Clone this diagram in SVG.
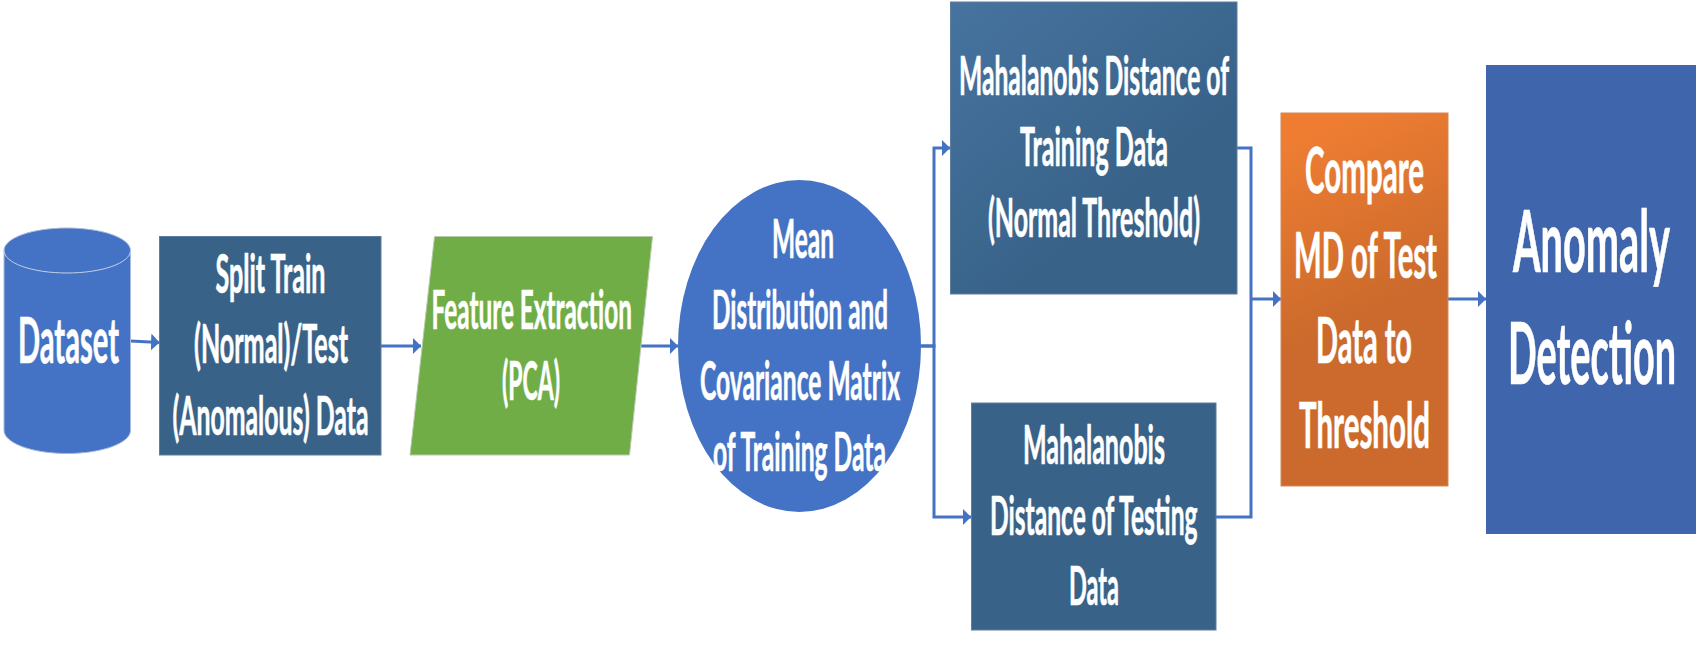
<svg xmlns="http://www.w3.org/2000/svg" width="1701" height="653" viewBox="0 0 1701 653">
<style>
text{font-family:"Lato","Open Sans","Liberation Sans",sans-serif;font-weight:700;fill:#fff;stroke:#fff;stroke-width:.7}
.s{font-size:53px}
.m{font-size:63px}
.l{font-size:86px}
.b{stroke:#5d7f9f;stroke-width:1}
.c{fill:none;stroke:#4472c4;stroke-width:3}
.a{fill:#4472c4}
</style>
<defs>
<linearGradient id="gb" gradientUnits="userSpaceOnUse" x1="960" y1="0" x2="1130" y2="200"><stop offset="0" stop-color="#46739f"/><stop offset="1" stop-color="#386288"/></linearGradient>
<linearGradient id="go" gradientUnits="userSpaceOnUse" x1="1340" y1="120" x2="1420" y2="290"><stop offset="0" stop-color="#ee7d32"/><stop offset="1" stop-color="#cb6a2c"/></linearGradient>
<marker id="ah" markerUnits="userSpaceOnUse" markerWidth="9" markerHeight="17" refX="8.500" refY="8.500" orient="auto"><path d="M0 0L8.500 8.500L0 17Z" class="a"/></marker>
</defs>
<g id="connectors">
<path class="c" marker-end="url(#ah)" d="M130.500 341L159.500 342.500"/>
<path class="c" marker-end="url(#ah)" d="M381 346H421"/>
<path class="c" marker-end="url(#ah)" d="M640 346H678"/>
<path class="c" marker-end="url(#ah)" d="M921 346H934V148H950"/>
<path class="c" marker-end="url(#ah)" d="M921 346H934V517H971"/>
<path class="c" d="M1237 148H1251V517H1216"/>
<path class="c" marker-end="url(#ah)" d="M1251 299H1281"/>
<path class="c" marker-end="url(#ah)" d="M1448 299H1486"/>
</g>
<g id="dataset">
<path d="M4 250.500C4 238 32 228 67 228S130.500 238 130.500 250.500V430.500C130.500 443 102 453.500 67 453.500S4 443 4 430.500Z" fill="#4472c4" stroke="#a9bbdc" stroke-width="1"/>
<path d="M4 250.500C4 263 32 273 67 273S130.500 263 130.500 250.500" fill="none" stroke="#c5d0e6" stroke-width="1"/>
<text x="18" y="363" font-size="64" textLength="101" lengthAdjust="spacingAndGlyphs">Dataset</text>
</g>
<g id="split">
<rect class="b" x="159.500" y="236.500" width="221.500" height="218.500" fill="#386288"/>
<text class="s" x="215.500" y="293" textLength="110" lengthAdjust="spacingAndGlyphs">Split Train</text>
<text class="s" x="194" y="363" textLength="154" lengthAdjust="spacingAndGlyphs">(Normal)/Test</text>
<text class="s" x="172.500" y="435" textLength="196" lengthAdjust="spacingAndGlyphs">(Anomalous) Data</text>
</g>
<g id="feature">
<path d="M434.500 236.500H652.500L629.500 455H410Z" fill="#70ad47" stroke="#b9c9ae" stroke-width="1"/>
<text class="s" x="431.500" y="329" textLength="200.500" lengthAdjust="spacingAndGlyphs">Feature Extraction</text>
<text class="s" x="502" y="400" textLength="58" lengthAdjust="spacingAndGlyphs">(PCA)</text>
</g>
<g id="mean">
<ellipse cx="799.500" cy="346" rx="121.500" ry="166" fill="#4472c4"/>
<text class="s" x="772" y="258" textLength="62" lengthAdjust="spacingAndGlyphs">Mean</text>
<text class="s" x="712" y="329" textLength="176" lengthAdjust="spacingAndGlyphs">Distribution and</text>
<text class="s" x="700" y="400" textLength="200" lengthAdjust="spacingAndGlyphs">Covariance Matrix</text>
<text class="s" x="713" y="471" textLength="173" lengthAdjust="spacingAndGlyphs">of Training Data</text>
</g>
<g id="mdtrain">
<rect class="b" x="950.500" y="2" width="286.500" height="292" fill="url(#gb)"/>
<text class="s" x="959" y="95" textLength="270" lengthAdjust="spacingAndGlyphs">Mahalanobis Distance of</text>
<text class="s" x="1020" y="166" textLength="148" lengthAdjust="spacingAndGlyphs">Training Data</text>
<text class="s" x="988" y="237" textLength="212" lengthAdjust="spacingAndGlyphs">(Normal Threshold)</text>
</g>
<g id="mdtest">
<rect class="b" x="971.500" y="403" width="244.500" height="227" fill="#386288"/>
<text class="s" x="1023" y="464" textLength="142" lengthAdjust="spacingAndGlyphs">Mahalanobis</text>
<text class="s" x="990" y="534.500" textLength="207.500" lengthAdjust="spacingAndGlyphs">Distance of Testing</text>
<text class="s" x="1069" y="605" textLength="50" lengthAdjust="spacingAndGlyphs">Data</text>
</g>
<g id="compare">
<rect x="1281" y="113" width="167" height="373" fill="url(#go)" stroke="#d08a58" stroke-width="1"/>
<text class="m" x="1305" y="193" textLength="119" lengthAdjust="spacingAndGlyphs">Compare</text>
<text class="m" x="1294" y="278" textLength="143" lengthAdjust="spacingAndGlyphs">MD of Test</text>
<text class="m" x="1316" y="363" textLength="96" lengthAdjust="spacingAndGlyphs">Data to</text>
<text class="m" x="1299" y="448" textLength="131" lengthAdjust="spacingAndGlyphs">Threshold</text>
</g>
<g id="anomaly">
<rect x="1486" y="65" width="210" height="469" fill="#3f65ac"/>
<text class="l" x="1513" y="272" textLength="157" lengthAdjust="spacingAndGlyphs">Anomaly</text>
<text class="l" x="1508" y="384" textLength="168" lengthAdjust="spacingAndGlyphs">Detection</text>
</g>
</svg>
